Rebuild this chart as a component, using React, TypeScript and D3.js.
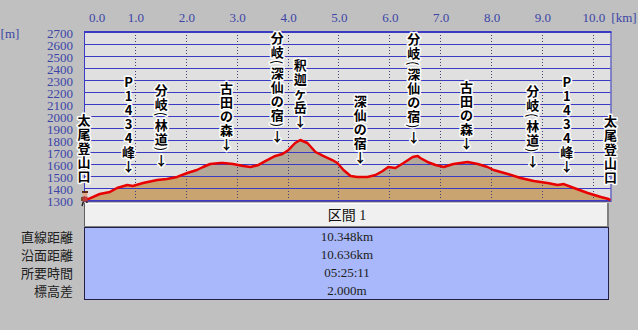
import React from 'react';
import * as d3 from 'd3';

const distKm = [0, 0.08, 0.31, 0.51, 0.65, 0.85, 0.96, 1.16, 1.44, 1.63, 1.83, 2.03, 2.22, 2.34, 2.48, 2.68, 2.74, 2.93, 3.13, 3.27, 3.43, 3.60, 3.76, 3.90, 4.02, 4.15, 4.25, 4.39, 4.55, 4.70, 4.88, 4.98, 5.10, 5.24, 5.37, 5.57, 5.73, 5.87, 5.98, 6.12, 6.28, 6.46, 6.56, 6.61, 6.75, 6.91, 7.07, 7.26, 7.54, 7.74, 7.93, 8.05, 8.33, 8.58, 8.84, 9.11, 9.31, 9.43, 9.63, 9.90, 10.16, 10.31, 10.348];
const elevM = [1302, 1308, 1350, 1367, 1400, 1425, 1417, 1442, 1467, 1475, 1492, 1525, 1550, 1575, 1600, 1608, 1608, 1600, 1583, 1575, 1592, 1633, 1667, 1683, 1717, 1775, 1800, 1775, 1700, 1667, 1633, 1608, 1550, 1500, 1492, 1492, 1508, 1542, 1575, 1567, 1608, 1658, 1667, 1650, 1617, 1592, 1575, 1600, 1617, 1600, 1575, 1550, 1517, 1483, 1458, 1442, 1425, 1433, 1400, 1358, 1325, 1308, 1300];

const xTicks = [0, 1, 2, 3, 4, 5, 6, 7, 8, 9, 10];
const xTickLabels = ['0.0', '1.0', '2.0', '3.0', '4.0', '5.0', '6.0', '7.0', '8.0', '9.0', '10.0'];
const yTicks = [1300, 1400, 1500, 1600, 1700, 1800, 1900, 2000, 2100, 2200, 2300, 2400, 2500, 2600, 2700];

const waypointNames = ['太尾登山口', 'P1434峰', '分岐(林道)', '古田の森', '分岐(深仙の宿)', '釈迦ヶ岳', '深仙の宿', '分岐(深仙の宿)', '古田の森', '分岐(林道)', 'P1434峰', '太尾登山口'];
const waypointKm = [0, 0.876, 1.52, 2.80, 3.80, 4.25, 5.43, 6.48, 7.52, 8.82, 9.49, 10.348];
const waypointArrow = [false, true, true, true, true, true, true, true, true, true, true, false];

const sectionTitle = '区間 1';
const rowLabels = ['直線距離', '沿面距離', '所要時間', '標高差'];
const rowValues = ['10.348km', '10.636km', '05:25:11', '2.000m'];

const W = 638, H = 330;
const L = 84, R = 610.5, T = 32, B = 200;
const serif = "'Liberation Serif', 'DejaVu Serif', 'Noto Sans CJK JP', serif";
const cjk = "'Noto Sans CJK JP', sans-serif";

export default function App() {
  const x = d3.scaleLinear().domain([0, 10.348]).range([L, R]);
  const y = d3.scaleLinear().domain([1300, 2700]).range([B, T]);
  const elevAt = d3.scaleLinear().domain(distKm).range(elevM);
  const pts: [number, number][] = distKm.map((d, i) => [d, elevM[i]]);
  const area = d3.area<[number, number]>().x(d => x(d[0])).y0(B).y1(d => y(d[1]))(pts) || '';
  const line = d3.line<[number, number]>().x(d => x(d[0])).y(d => y(d[1]))(pts) || '';
  const splitOff = (y(1500) - T) / (B - T);
  const gridBlue = '#3a3ac4';
  const tickCol = '#3c44a8';

  const labels = waypointNames.map((name, i) => {
    const chars = Array.from(name);
    if (waypointArrow[i]) chars.push('↓');
    const hs = chars.map(c => (c === '(' || c === ')' ? 7 : 14));
    const cx = x(waypointKm[i]);
    const base = y(elevAt(waypointKm[i])) - (waypointArrow[i] ? 20 : 24);
    const ys: number[] = new Array(chars.length);
    ys[chars.length - 1] = base;
    for (let k = chars.length - 2; k >= 0; k--) ys[k] = ys[k + 1] - (hs[k] + hs[k + 1]) / 2;
    return chars.map((c, k) => {
      const isParen = c === '(' || c === ')';
      return (
        <text key={`${i}-${k}`} x={cx} y={ys[k]} textAnchor="middle" dominantBaseline="central"
          fontFamily={cjk} fontSize={13} fontWeight={isParen ? 400 : 700} fill="#000"
          stroke="#fff" strokeWidth={3} strokeLinejoin="round" style={{ paintOrder: 'stroke' }}
          transform={isParen ? `rotate(90 ${cx} ${ys[k]})` : undefined}>{c}</text>
      );
    });
  });

  return (
    <svg width={W} height={H} style={{ position: 'absolute', left: 0, top: 0, background: '#c0c0c0' }}>
      <defs>
        <linearGradient id="fillGrad" gradientUnits="userSpaceOnUse" x1={0} y1={T} x2={0} y2={B}>
          <stop offset={0} stopColor="#b4a998" />
          <stop offset={splitOff} stopColor="#b4a998" />
          <stop offset={splitOff} stopColor="#c9a470" />
          <stop offset={1} stopColor="#c9a470" />
        </linearGradient>
      </defs>
      <rect x={L} y={T} width={R - L} height={B - T} fill="#e0e0e0" />
      <path d={area} fill="url(#fillGrad)" />
      {yTicks.map(t => (
        <line key={'g' + t} x1={L} x2={R} y1={y(t) + 0.5} y2={y(t) + 0.5} stroke={gridBlue} strokeWidth={1} />
      ))}
      {xTicks.slice(1).map(t => (
        <line key={'v' + t} x1={Math.round(x(t)) + 0.5} x2={Math.round(x(t)) + 0.5} y1={T} y2={B} stroke="#404078" strokeWidth={1} strokeDasharray="1,2" />
      ))}
      <line x1={L} x2={R + 1} y1={T} y2={T} stroke={gridBlue} strokeWidth={2} />
      <line x1={L + 0.5} x2={L + 0.5} y1={T} y2={B} stroke={gridBlue} strokeWidth={1} />
      <line x1={R + 0.5} x2={R + 0.5} y1={T} y2={B + 1} stroke={gridBlue} strokeWidth={1} />
      <line x1={L} x2={R + 1} y1={B + 1.5} y2={B + 1.5} stroke="#5a4a9a" strokeWidth={1} />
      <path d={line} fill="none" stroke="#e80000" strokeWidth={2.5} strokeLinejoin="round" />
      {xTicks.map((t, i) => (
        <text key={'xt' + t} x={t === 0 ? 97 : x(t) + 1} y={17} textAnchor="middle" dominantBaseline="central"
          fontFamily={serif} fontSize={13} fill={tickCol}>{xTickLabels[i]}</text>
      ))}
      {yTicks.map(t => (
        <text key={'yt' + t} x={73} y={y(t) + 1.5} textAnchor="end" dominantBaseline="central"
          fontFamily={serif} fontSize={13} fill={tickCol}>{t}</text>
      ))}
      <text x={10} y={33} textAnchor="middle" dominantBaseline="central" fontFamily={serif} fontSize={13} fill={tickCol}>[m]</text>
      <text x={624} y={17} textAnchor="middle" dominantBaseline="central" fontFamily={serif} fontSize={13} fill={tickCol}>[km]</text>
      {labels}
      <g>
        <circle cx={85} cy={194} r={2.5} fill="#e0a888" />
        <rect x={82} y={191} width={6} height={2} fill="#5a2a1a" />
        <rect x={82.5} y={196.5} width={5} height={5} fill="#c03a3a" />
        <rect x={81} y={197} width={2} height={4} fill="#7a4a2a" />
        <line x1={83.5} y1={201.5} x2={82} y2={206} stroke="#202020" strokeWidth={1.5} />
        <line x1={86.5} y1={201.5} x2={88} y2={206} stroke="#202020" strokeWidth={1.5} />
      </g>
      <rect x={84.5} y={203.5} width={524} height={23} fill="#f0f0f0" stroke="none" />
      <line x1={84.5} x2={84.5} y1={203} y2={227} stroke="#606060" />
      <line x1={85} x2={608} y1={203.5} y2={203.5} stroke="#ffffff" />
      <line x1={608} x2={608} y1={203} y2={227} stroke="#808080" strokeWidth={2} />
      <line x1={84} x2={609} y1={226.5} y2={226.5} stroke="#808080" />
      <text x={347} y={215} textAnchor="middle" dominantBaseline="central" fontFamily={serif} fontSize={14} fill="#101010">{sectionTitle}</text>
      <rect x={84.5} y={227.5} width={524} height={72} fill="#a8b8fa" stroke="#202048" strokeWidth={1} />
      {rowLabels.map((r, i) => (
        <text key={'rl' + i} x={73} y={236.5 + i * 18} textAnchor="end" dominantBaseline="central"
          fontFamily={cjk} fontSize={13} fill="#202020">{r}</text>
      ))}
      {rowValues.map((v, i) => (
        <text key={'rv' + i} x={347} y={236.5 + i * 18} textAnchor="middle" dominantBaseline="central"
          fontFamily={serif} fontSize={13} fill="#202020">{v}</text>
      ))}
    </svg>
  );
}
